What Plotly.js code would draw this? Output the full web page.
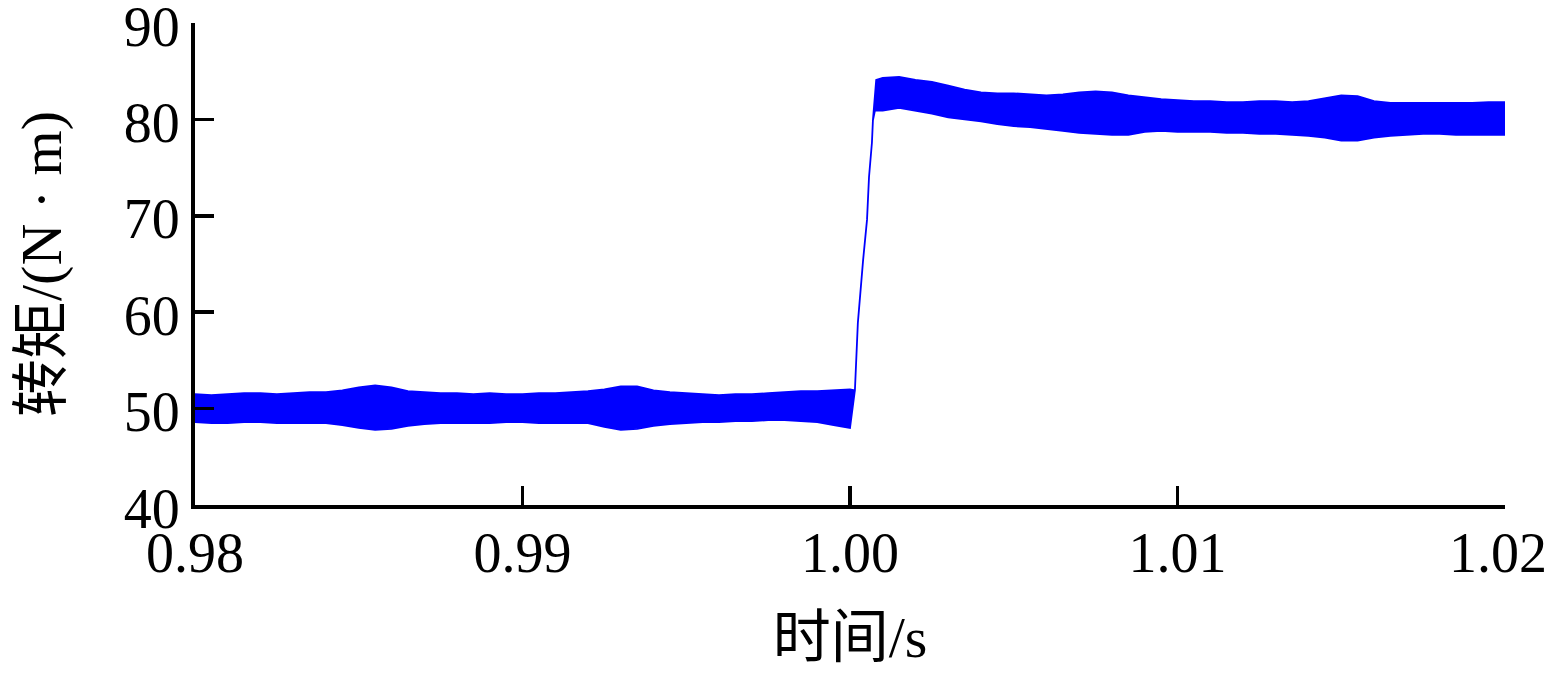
<!DOCTYPE html>
<html>
<head>
<meta charset="utf-8">
<script src="https://cdn.plot.ly/plotly-3.0.1.min.js"></script>
<style>html,body{margin:0;padding:0;background:#fff;}#chart{width:1549px;height:684px;}</style>
</head>
<body>
<div id="chart"></div>
<script>
// Time axis samples (s) for the envelope of the noisy torque signal
const timeS = [
  0.9800,0.9805,0.9810,0.9815,0.9820,0.9825,0.9830,0.9835,0.9840,0.9845,
  0.9850,0.9855,0.9860,0.9865,0.9870,0.9875,0.9880,0.9885,0.9890,0.9895,
  0.9900,0.9905,0.9910,0.9915,0.9920,0.9925,0.9930,0.9935,0.9940,0.9945,
  0.9950,0.9955,0.9960,0.9965,0.9970,0.9975,0.9980,0.9985,0.9990,0.9995,
  1.0000,1.00015,1.00024,1.00040,1.00052,1.00058,1.00067,1.00070,1.00076,
  1.0008,1.0010,1.0015,1.0020,1.0025,1.0030,1.0035,1.0040,1.0045,1.0050,
  1.0055,1.0060,1.0065,1.0070,1.0075,1.0080,1.0085,1.0090,1.0095,1.0100,
  1.0105,1.0110,1.0115,1.0120,1.0125,1.0130,1.0135,1.0140,1.0145,1.0150,
  1.0155,1.0160,1.0165,1.0170,1.0175,1.0180,1.0185,1.0190,1.0195,1.0200
];
// Upper envelope of torque (N·m)
const torqueUpper = [
  51.5,51.4,51.5,51.6,51.6,51.5,51.6,51.7,51.7,51.9,
  52.2,52.4,52.2,51.8,51.7,51.6,51.6,51.5,51.6,51.5,
  51.5,51.6,51.6,51.7,51.8,52.0,52.3,52.3,51.9,51.7,
  51.6,51.5,51.4,51.5,51.5,51.6,51.7,51.8,51.8,51.9,
  52.0,51.9,58.9,65.4,69.6,74.0,77.6,79.9,82.0,
  84.1,84.3,84.4,84.1,83.9,83.5,83.1,82.8,82.7,82.7,
  82.6,82.5,82.6,82.8,82.9,82.8,82.5,82.3,82.1,82.0,
  81.9,81.9,81.8,81.8,81.9,81.9,81.8,81.9,82.2,82.5,
  82.4,81.9,81.7,81.7,81.7,81.7,81.7,81.7,81.8,81.8
];
// Lower envelope of torque (N·m)
const torqueLower = [
  48.6,48.5,48.5,48.6,48.6,48.5,48.5,48.5,48.5,48.3,
  48.0,47.8,47.9,48.2,48.4,48.5,48.5,48.5,48.5,48.6,
  48.6,48.5,48.5,48.5,48.5,48.1,47.8,47.9,48.2,48.4,
  48.5,48.6,48.6,48.7,48.7,48.8,48.8,48.7,48.6,48.3,
  48.0,51.9,58.9,65.4,69.6,74.0,77.6,79.9,80.9,
  80.9,80.9,81.2,80.9,80.6,80.2,80.0,79.8,79.5,79.3,
  79.2,79.0,78.8,78.6,78.5,78.4,78.4,78.7,78.8,78.7,
  78.7,78.7,78.6,78.6,78.5,78.5,78.4,78.3,78.1,77.8,
  77.8,78.1,78.3,78.4,78.5,78.5,78.4,78.4,78.4,78.4
];
const xTickVals = [0.98,0.99,1.00,1.01,1.02];
const xTickText = ['0.98','0.99','1.00','1.01',''];
const xLastTickText = '1.02';
const yTickVals = [40,50,60,70,80,90];

const bandX = timeS.concat(timeS.slice().reverse());
const bandY = torqueUpper.concat(torqueLower.slice().reverse());

const FONT = 'Liberation Serif, Times New Roman, Noto Sans CJK SC, serif';

const data = [{
  x: bandX, y: bandY, type: 'scatter', mode: 'lines',
  fill: 'toself', fillcolor: '#0000ff',
  line: {color: '#0000ff', width: 1.8},
  hoverinfo: 'skip', showlegend: false
}];

const layout = {
  width: 1549, height: 684,
  margin: {l: 195, r: 44, t: 23, b: 179},
  paper_bgcolor: '#fff', plot_bgcolor: '#fff',
  font: {family: FONT, size: 56, color: '#000'},
  showlegend: false,
  xaxis: {
    range: [0.98, 1.02], tickvals: xTickVals, ticktext: xTickText,
    ticks: 'inside', ticklen: 19, tickwidth: 3.5, tickcolor: '#000',
    showline: true, linewidth: 4, linecolor: '#000',
    showgrid: false, zeroline: false, ticklabelstandoff: -4,
    ticklabeloverflow: 'allow',
    tickfont: {family: FONT, size: 56, color: '#000'},
    title: {text: '时间/s', font: {family: FONT, size: 58, color: '#000'}, standoff: 34}
  },
  yaxis: {
    range: [40, 90], tickvals: yTickVals,
    ticks: 'inside', ticklen: 19, tickwidth: 3.5, tickcolor: '#000',
    showline: true, linewidth: 4, linecolor: '#000',
    showgrid: false, zeroline: false, ticklabelstandoff: 0,
    ticklabelshift: 3,
    ticklabeloverflow: 'allow',
    tickfont: {family: FONT, size: 56, color: '#000'},
    title: {text: '转矩/(N · m)', font: {family: FONT, size: 58, color: '#000'}, standoff: 44}
  },
  annotations: [{
    x: xTickVals[4], xref: 'x', y: 0, yref: 'paper',
    text: xLastTickText, showarrow: false,
    xanchor: 'center', yanchor: 'top', xshift: -7, yshift: -15,
    font: {family: FONT, size: 56, color: '#000'}
  }]
};

Plotly.newPlot('chart', data, layout, {staticPlot: true, displayModeBar: false});
</script>
</body>
</html>
